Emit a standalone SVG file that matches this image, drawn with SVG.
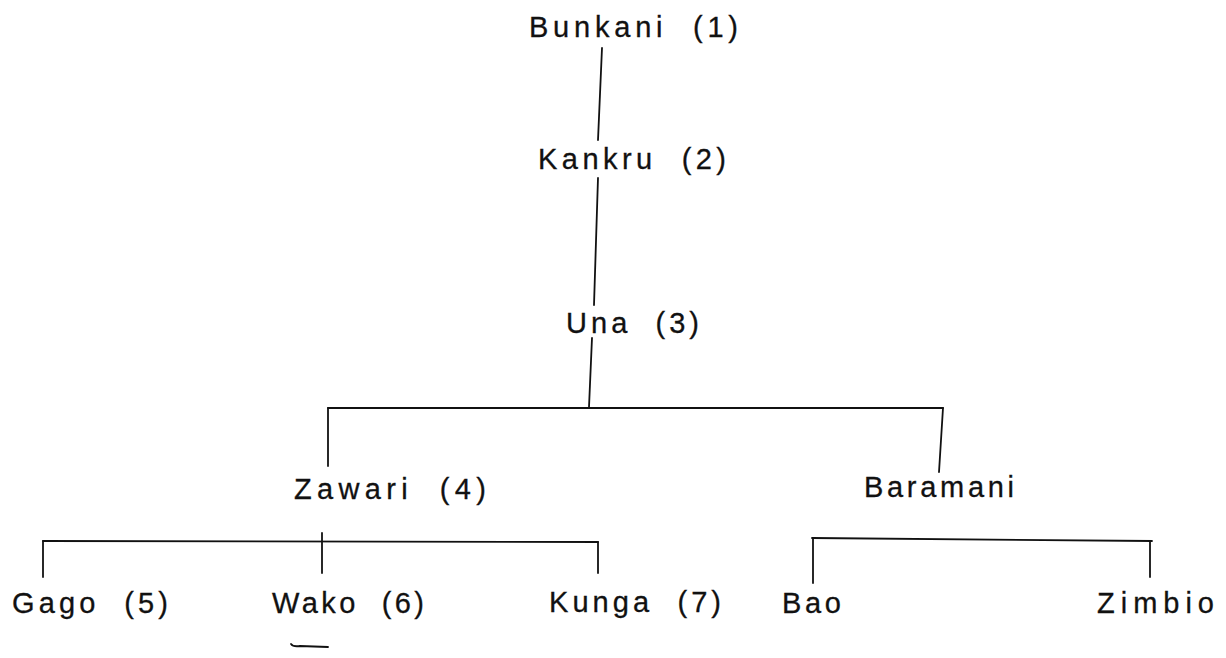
<svg xmlns="http://www.w3.org/2000/svg" width="1226" height="658" viewBox="0 0 1226 658">
  <style>
    .lbl { font-family: "Liberation Sans", Arial, sans-serif; font-size: 29px; fill: #111; stroke: #111; stroke-width: 0.3; white-space: pre; }
    .ln { stroke: #111; stroke-width: 1.8; fill: none; stroke-linecap: round; }
  </style>
  <rect width="1226" height="658" fill="#fff"/>
  <g id="connectors">
    <line class="ln" x1="602" y1="48" x2="598" y2="140"/>
    <line class="ln" x1="598" y1="178" x2="594" y2="305"/>
    <line class="ln" x1="592" y1="338" x2="589" y2="407"/>
    <line class="ln" x1="328" y1="408" x2="943" y2="408"/>
    <line class="ln" x1="328" y1="408" x2="328" y2="466"/>
    <line class="ln" x1="943" y1="408" x2="939" y2="472"/>
    <line class="ln" x1="43" y1="541" x2="598" y2="542"/>
    <line class="ln" x1="43" y1="541" x2="43" y2="577"/>
    <line class="ln" x1="322" y1="533" x2="322" y2="573"/>
    <line class="ln" x1="598" y1="542" x2="598" y2="573"/>
    <line class="ln" x1="812" y1="538" x2="1152" y2="541"/>
    <line class="ln" x1="813" y1="538" x2="813" y2="583"/>
    <line class="ln" x1="1150" y1="541" x2="1150" y2="577"/>
  </g>
  <g id="n1"><text class="lbl" x="529" y="37" textLength="209" lengthAdjust="spacing">Bunkani  (1)</text></g>
  <g id="n2"><text class="lbl" x="538" y="169" textLength="188" lengthAdjust="spacing">Kankru  (2)</text></g>
  <g id="n3"><text class="lbl" x="566" y="333" textLength="133" lengthAdjust="spacing">Una  (3)</text></g>
  <g id="n4"><text class="lbl" x="294" y="499" textLength="192" lengthAdjust="spacing">Zawari  (4)</text></g>
  <g id="n-baramani"><text class="lbl" x="864" y="497" textLength="150" lengthAdjust="spacing">Baramani</text></g>
  <g id="n5"><text class="lbl" x="12" y="613" textLength="156" lengthAdjust="spacing">Gago  (5)</text></g>
  <g id="n6">
    <text class="lbl" x="272" y="613" textLength="152" lengthAdjust="spacing">Wako  (6)</text>
    <path class="ln" d="M291 644 Q293 647 300 646 L328 647" stroke-width="2.2"/>
  </g>
  <g id="n7"><text class="lbl" x="549" y="612" textLength="172" lengthAdjust="spacing">Kunga  (7)</text></g>
  <g id="n-bao"><text class="lbl" x="782" y="613" textLength="59" lengthAdjust="spacing">Bao</text></g>
  <g id="n-zimbio"><text class="lbl" x="1097" y="613" textLength="117" lengthAdjust="spacing">Zimbio</text></g>
</svg>
